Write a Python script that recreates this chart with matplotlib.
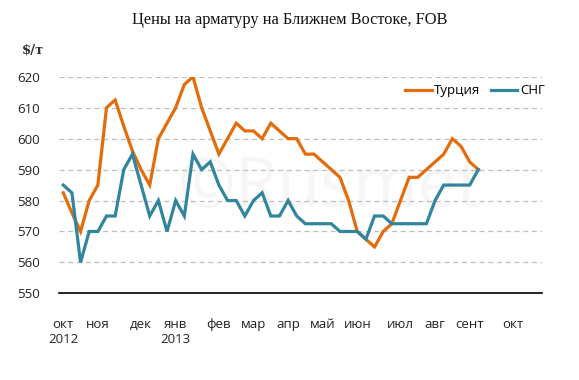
import numpy as np
import matplotlib
matplotlib.use("Agg")
import matplotlib.pyplot as plt

plt.rcParams['font.family'] = ['Open Sans', 'DejaVu Sans']

# weekly prices, $/t
turkey = [582.5, 576, 570, 580, 585, 610, 612.5, 604, 596, 590,
          585, 600, 605, 610, 617.5, 620, 610, 602.5, 595, 600,
          605, 602.5, 602.5, 600, 605, 602.5, 600, 600, 595, 595,
          592.5, 590, 587.5, 580, 570, 567.5, 565, 570, 572.5, 580,
          587.5, 587.5, 590, 592.5, 595, 600, 597.5, 592.5, 590]
cis = [585, 582.5, 560, 570, 570, 575, 575, 590, 595, 585,
       575, 580, 570, 580, 575, 595, 590, 592.5, 585, 580,
       580, 575, 580, 582.5, 575, 575, 580, 575, 572.5, 572.5,
       572.5, 572.5, 570, 570, 570, 567.5, 575, 575, 572.5, 572.5,
       572.5, 572.5, 572.5, 580, 585, 585, 585, 585, 590]

month_pos = [0, 4, 9, 13, 18, 22, 26, 30, 34, 39, 43, 47, 52]
month_labels = ['окт', 'ноя', 'дек', 'янв', 'фев', 'мар', 'апр', 'май',
                'июн', 'июл', 'авг', 'сент', 'окт']
year_pos = [0, 13]
year_labels = ['2012', '2013']
yticks = [550, 560, 570, 580, 590, 600, 610, 620]

orange = '#E46C0A'
teal = '#31859C'

fig = plt.figure(figsize=(5.79, 3.80), dpi=100)
ax = fig.add_axes([0.1024, 0.228, 0.8342, 0.570])

ax.text(0.56, 0.48, '©Rusmet', transform=ax.transAxes, ha='center', va='center',
        fontsize=50, color='#F6F6F6', zorder=0)

for v in yticks[1:]:
    ax.axhline(v, color='#BFBFBF', lw=0.9, ls=(0, (4, 3)), zorder=1)

x = np.arange(len(turkey))
ax.plot(x, turkey, color=orange, lw=2.3, label='Турция', zorder=3,
        solid_joinstyle='miter')
ax.plot(x, cis, color=teal, lw=2.3, label='СНГ', zorder=3,
        solid_joinstyle='miter')

ax.set_xlim(-0.46, 55.4)
ax.set_ylim(550, 620)
ax.set_yticks(yticks)
ax.set_yticklabels([str(v) for v in yticks], fontsize=9.5, color='#222222')
ax.set_xticks(month_pos)
ax.set_xticklabels(month_labels, fontsize=9.5, color='#222222')
ax.tick_params(axis='both', length=0)
ax.tick_params(axis='x', pad=18)
ax.tick_params(axis='y', pad=14)

for p, lab in zip(year_pos, year_labels):
    ax.text(p, -0.212, lab, transform=ax.get_xaxis_transform(), ha='center',
            va='center', fontsize=9.5, color='#222222')

for s in ['top', 'right', 'left']:
    ax.spines[s].set_visible(False)
ax.spines['bottom'].set_color('black')
ax.spines['bottom'].set_linewidth(1.2)

leg = ax.legend(loc='upper right', bbox_to_anchor=(1.03, 1.02), ncol=2,
                frameon=False, fontsize=9.5, handlelength=2.0,
                handletextpad=0.2, columnspacing=0.8)

fig.text(0.5, 0.948, 'Цены на арматуру на Ближнем Востоке, FOB',
         ha='center', va='center', fontsize=11.8, family='Liberation Serif',
         color='#111111')
fig.text(0.038, 0.868, '$/т', ha='left', va='center', fontsize=9.5,
         family='DejaVu Serif', weight='bold', color='#333333')

fig.savefig('out.png', dpi=100)
